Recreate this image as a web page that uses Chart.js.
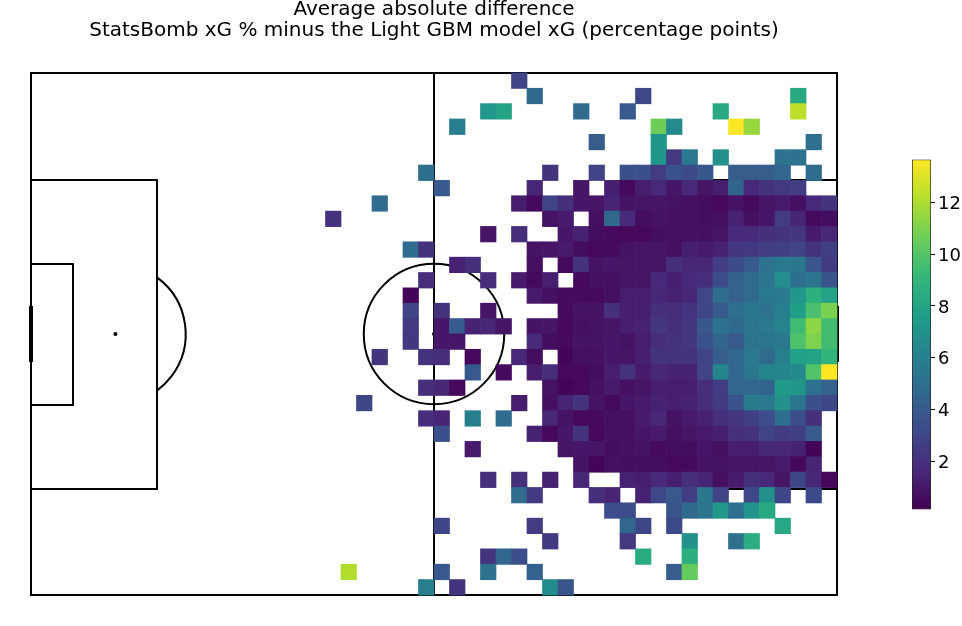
<!DOCTYPE html>
<html>
<head>
<meta charset="utf-8">
<title>xG difference</title>
<script src="https://cdn.jsdelivr.net/npm/chart.js@4"></script>
<style>
  html, body { margin: 0; padding: 0; background: #fff; }
  canvas { position: absolute; left: 0; top: 0; }
</style>
</head>
<body>
<canvas id="pitchChart" width="962" height="626"></canvas>
<canvas id="barChart" width="962" height="626"></canvas>
<script>
const titleLines = ['Average absolute difference', 'StatsBomb xG % minus the Light GBM model xG (percentage points)'];
const barTicks = [2, 4, 6, 8, 10, 12];
const barMin = 0.14;
const barMax = 13.65;

// one list per pitch row (top to bottom), entries run from bin column 19 to column 51
const firstCol = 19;
const _ = null;
const row00 = [_,_,_,_,_,_,_,_,_,_,_,_, 2.9,_,_,_,_,_,_,_,_,_, _,_,_,_,_,_,_,_,_,_,_];
const row01 = [_,_,_,_,_,_,_,_,_,_,_,_, _,4.7,_,_,_,_,_,_,3.1,_, _,_,_,_,_,_,_,_,8.3,_,_];
const row02 = [_,_,_,_,_,_,_,_,_,_,7.2,8.0, _,_,_,_,4.8,_,_,3.9,_,_, _,_,_,8.3,_,_,_,_,12.3,_,_];
const row03 = [_,_,_,_,_,_,_,_,5.9,_,_,_, _,_,_,_,_,_,_,_,_,10.6, 6.6,_,_,_,13.6,11.5,_,_,_,_,_];
const row04 = [_,_,_,_,_,_,_,_,_,_,_,_, _,_,_,_,_,4.1,_,_,_,7.2, _,_,_,_,_,_,_,_,_,5.1,_];
const row05 = [_,_,_,_,_,_,_,_,_,_,_,_, _,_,_,_,_,_,_,_,_,7.2, 2.4,5.6,_,6.9,_,_,_,5.2,5.2,_,_];
const row06 = [_,_,_,_,_,_,5.0,_,_,_,_,_, _,_,2.2,_,_,2.9,_,3.5,3.5,2.6, 3.6,3.2,3.8,_,4.1,4.1,4.1,4.6,_,4.9,_];
const row07 = [_,_,_,_,_,_,_,3.9,_,_,_,_, _,1.6,_,_,0.9,_,1.3,0.5,1.2,1.7, 1.0,1.7,0.9,1.2,4.5,1.7,2.1,2.4,2.6,_,_];
const row08 = [_,_,_,4.9,_,_,_,_,_,_,_,_, 1.2,0.5,2.9,2.0,1.0,0.9,1.5,0.8,0.9,0.9, 0.8,0.7,0.6,0.4,0.8,0.5,0.9,1.1,0.7,1.7,2.2];
const row09 = [2.1,_,_,_,_,_,_,_,_,_,_,_, _,_,0.8,1.1,_,0.7,4.7,1.8,0.6,0.8, 0.7,0.7,0.6,0.7,1.4,0.7,1.0,2.6,1.5,0.5,0.6];
const row10 = [_,_,_,_,_,_,_,_,_,_,0.9,_, 1.9,_,_,1.0,1.4,0.6,0.5,0.4,0.4,0.6, 0.7,0.7,0.7,0.9,1.7,1.8,2.0,2.2,2.3,1.1,1.6];
const row11 = [_,_,_,_,_,4.9,2.1,_,_,_,_,_, _,0.8,0.9,1.1,0.6,0.4,0.5,0.8,0.9,0.9, 0.7,1.3,1.1,1.4,2.3,2.4,2.6,2.7,2.9,2.1,2.7];
const row12 = [_,_,_,_,_,_,_,_,1.4,2.0,_,_, _,0.7,_,0.5,2.1,0.8,1.0,0.9,0.9,0.9, 2.0,1.6,1.6,2.6,3.2,4.0,5.2,5.7,5.5,3.7,2.5];
const row13 = [_,_,_,_,_,_,1.9,_,_,_,1.9,_, 1.1,0.5,1.3,_,0.4,0.7,0.7,0.9,0.9,1.7, 1.3,1.8,1.9,3.3,4.3,4.8,5.4,6.8,5.0,5.4,3.7];
const row14 = [_,_,_,_,_,0.3,_,_,_,_,_,_, _,1.1,0.7,0.5,0.5,0.5,0.7,1.2,1.3,1.6, 1.4,1.6,3.1,4.9,4.3,4.8,5.7,5.6,7.2,8.7,7.9];
const row15 = [_,_,_,_,_,2.9,_,2.1,_,_,0.9,_, _,_,_,0.5,0.8,0.8,2.0,1.3,1.3,2.0, 1.9,2.2,3.0,4.0,5.0,5.5,5.2,6.0,7.7,9.7,10.9];
const row16 = [_,_,_,_,_,2.4,_,1.0,4.0,1.4,1.6,0.9, _,0.8,0.9,0.4,0.7,0.8,0.9,1.2,1.4,2.3, 2.0,2.3,3.8,5.2,4.7,5.4,5.6,6.2,9.4,11.3,9.5];
const row17 = [_,_,_,_,_,2.3,_,1.0,1.0,_,_,_, _,1.8,0.6,0.5,0.8,0.8,1.0,0.8,1.2,1.9, 2.1,2.3,3.6,4.5,3.9,5.3,5.4,5.6,9.8,11.0,9.5];
const row18 = [_,_,_,2.2,_,_,2.1,1.9,_,0.4,_,_, 1.7,0.6,_,0.3,0.7,0.7,1.0,0.9,1.3,2.2, 2.1,2.2,2.9,4.1,4.6,5.6,4.8,6.0,7.8,7.9,8.9];
const row19 = [_,_,_,_,_,_,_,_,_,3.9,_,0.5, _,1.2,1.9,0.4,0.4,0.6,1.2,2.1,1.1,1.6, 1.4,1.4,2.9,6.3,4.6,5.5,6.3,6.3,6.5,9.9,13.6];
const row20 = [_,_,_,_,_,_,1.9,1.6,0.4,_,_,_, _,_,0.8,0.3,0.4,0.7,1.1,0.7,0.9,1.3, 1.2,1.3,1.9,2.6,4.6,4.6,4.5,7.5,7.2,5.2,4.3];
const row21 = [_,_,3.0,_,_,_,_,_,_,_,_,_, 1.2,_,0.7,1.5,2.2,0.8,0.5,1.0,1.1,1.4, 1.3,1.4,1.9,2.5,3.6,5.8,5.6,7.0,5.4,3.5,3.0];
const row22 = [_,_,_,_,_,_,1.9,1.5,_,6.0,_,4.9, _,_,1.6,0.8,0.4,0.5,0.7,0.7,1.1,1.6, 0.8,1.1,1.4,2.0,2.3,2.7,3.3,5.0,3.4,2.0,_];
const row23 = [_,_,_,_,_,_,_,3.5,_,_,_,_, _,1.4,0.4,1.0,2.2,0.4,0.7,0.7,1.0,1.1, 0.7,0.9,1.1,1.3,2.0,2.1,2.9,2.5,2.7,4.0,_];
const row24 = [_,_,_,_,_,_,_,_,_,1.1,_,_, _,_,_,0.9,1.0,0.9,0.6,0.7,0.8,0.5, 0.6,0.6,1.0,0.7,1.2,1.2,1.6,1.6,1.4,0.3,_];
const row25 = [_,_,_,_,_,_,_,_,_,_,_,_, _,_,_,_,0.8,0.3,0.7,0.6,0.6,0.6, 0.4,0.5,0.8,0.8,0.9,0.9,0.9,1.1,0.4,1.5,_];
const row26 = [_,_,_,_,_,_,_,_,_,_,2.0,_, 2.0,_,1.4,_,1.6,_,_,1.4,1.2,1.8, 1.3,2.0,1.5,0.7,1.1,2.0,1.7,0.9,3.0,1.6,0.4];
const row27 = [_,_,_,_,_,_,_,_,_,_,_,_, 4.9,2.5,_,_,_,2.0,1.5,_,1.4,3.1, 3.9,2.6,5.5,2.9,_,3.1,6.9,3.0,_,3.2,_];
const row28 = [_,_,_,_,_,_,_,_,_,_,_,_, _,_,_,_,_,_,3.3,3.3,_,_, 3.7,4.7,5.4,7.3,5.0,7.1,8.3,_,_,_,_];
const row29 = [_,_,_,_,_,_,_,3.0,_,_,_,_, _,2.6,_,_,_,_,_,4.6,3.0,_, 3.2,_,_,_,_,_,_,8.2,_,_,_];
const row30 = [_,_,_,_,_,_,_,_,_,_,_,_, _,_,2.5,_,_,_,_,2.4,_,_, _,7.0,_,_,5.1,8.5,_,_,_,_,_];
const row31 = [_,_,_,_,_,_,_,_,_,_,2.2,4.6, 3.4,_,_,_,_,_,_,_,8.4,_, _,8.7,_,_,_,_,_,_,_,_,_];
const row32 = [_,12.1,_,_,_,_,_,3.9,_,_,5.2,_, _,4.3,_,_,_,_,_,_,_,_, 4.1,10.4,_,_,_,_,_,_,_,_,_];
const row33 = [_,_,_,_,_,_,5.9,_,2.2,_,_,_, _,_,6.7,3.7,_,_,_,_,_,_, _,_,_,_,_,_,_,_,_,_,_];

const rows = [row00, row01, row02, row03, row04, row05, row06, row07, row08, row09, row10, row11,
  row12, row13, row14, row15, row16, row17, row18, row19, row20, row21, row22, row23, row24,
  row25, row26, row27, row28, row29, row30, row31, row32, row33];

// pitch size in metres and bins
const pitchLength = 105;
const pitchWidth = 68;
const binCols = 52;
const binRows = 34;

// viridis stops, 0 to 1
const viridis = ['#440154', '#482878', '#3e4989', '#31688e', '#26828e', '#1f9e89', '#35b779', '#6ece58', '#b5de2b', '#fde725'];

function hexToRgb(h) {
  return [parseInt(h.slice(1, 3), 16), parseInt(h.slice(3, 5), 16), parseInt(h.slice(5, 7), 16)];
}

function colorFor(v) {
  const t = Math.min(1, Math.max(0, (v - barMin) / (barMax - barMin))) * (viridis.length - 1);
  const i = Math.min(viridis.length - 2, Math.floor(t));
  const a = hexToRgb(viridis[i]);
  const b = hexToRgb(viridis[i + 1]);
  const f = t - i;
  return `rgb(${a.map((c, k) => Math.round(c + (b[k] - c) * f)).join(',')})`;
}

const cells = [];
rows.forEach((row, r) => {
  row.forEach((v, c) => {
    if (v === null) return;
    cells.push({
      x: (firstCol + c + 0.5) * pitchLength / binCols,
      y: pitchWidth - (r + 0.5) * pitchWidth / binRows,
      v: v
    });
  });
});

// the pitch markings go under the cells
const pitchLines = {
  id: 'pitchLines',
  beforeDatasetsDraw(chart) {
    const { ctx, scales: { x, y } } = chart;
    const px = v => x.getPixelForValue(v);
    const py = v => y.getPixelForValue(v);
    const unit = px(1) - px(0);
    // snap the boxes so the 2px lines stay crisp
    const box = (x0, x1, y0, y1) => {
      const l = Math.floor(px(x0));
      const r = Math.floor(px(x1));
      const t = Math.ceil(py(y1));
      const b = Math.ceil(py(y0));
      ctx.strokeRect(l, t, r - l, b - t);
    };
    const mid = pitchWidth / 2;

    ctx.save();
    ctx.strokeStyle = '#000';
    ctx.fillStyle = '#000';
    ctx.lineWidth = 2;

    box(0, pitchLength, 0, pitchWidth);
    ctx.beginPath();
    ctx.moveTo(px(pitchLength / 2), py(0));
    ctx.lineTo(px(pitchLength / 2), py(pitchWidth));
    ctx.stroke();

    box(0, 16.5, mid - 20.16, mid + 20.16);
    box(0, 5.5, mid - 9.16, mid + 9.16);
    box(pitchLength - 16.5, pitchLength, mid - 20.16, mid + 20.16);
    box(pitchLength - 5.5, pitchLength, mid - 9.16, mid + 9.16);

    ctx.beginPath();
    ctx.arc(px(pitchLength / 2), py(mid), 9.15 * unit, 0, Math.PI * 2);
    ctx.stroke();

    const dAngle = Math.acos(5.5 / 9.15);
    ctx.beginPath();
    ctx.arc(px(11), py(mid), 9.15 * unit, -dAngle, dAngle);
    ctx.stroke();
    ctx.beginPath();
    ctx.arc(px(pitchLength - 11), py(mid), 9.15 * unit, Math.PI - dAngle, Math.PI + dAngle);
    ctx.stroke();

    [11, pitchLength / 2, pitchLength - 11].forEach(s => {
      ctx.beginPath();
      ctx.arc(px(s), py(mid), 2, 0, Math.PI * 2);
      ctx.fill();
    });

    // goals
    ctx.lineWidth = 4;
    ctx.beginPath();
    ctx.moveTo(px(0), py(mid - 3.66));
    ctx.lineTo(px(0), py(mid + 3.66));
    ctx.moveTo(px(pitchLength), py(mid - 3.66));
    ctx.lineTo(px(pitchLength), py(mid + 3.66));
    ctx.stroke();
    ctx.restore();
  }
};

new Chart(document.getElementById('pitchChart').getContext('2d'), {
  type: 'scatter',
  plugins: [pitchLines],
  data: {
    datasets: [{
      data: cells,
      pointStyle: 'rect',
      pointBorderWidth: 0,
      pointHoverRadius: 0,
      clip: false,
      pointBackgroundColor: c => colorFor(c.raw.v),
      pointRadius: c => {
        const x = c.chart.scales.x;
        // a little over one bin wide, otherwise white seams show between the cells
        const side = x.getPixelForValue(pitchLength / binCols) - x.getPixelForValue(0) + 0.7;
        return side / 2 * Math.SQRT2;
      }
    }]
  },
  options: {
    responsive: false,
    animation: false,
    devicePixelRatio: 1,
    layout: { padding: { left: 31, right: 125, top: 0, bottom: 31 } },
    plugins: {
      legend: { display: false },
      tooltip: { enabled: false },
      title: {
        display: true,
        text: titleLines,
        color: '#000',
        font: { family: 'DejaVu Sans', size: 20, weight: 'normal', lineHeight: 1.05 },
        padding: { top: -1, bottom: 32 }
      }
    },
    scales: {
      x: { type: 'linear', display: false, min: 0, max: pitchLength },
      y: { type: 'linear', display: false, min: 0, max: pitchWidth }
    }
  }
});

// colour bar is its own little chart, a single floating bar with the viridis ramp
new Chart(document.getElementById('barChart').getContext('2d'), {
  type: 'bar',
  data: {
    labels: ['xG'],
    datasets: [{
      data: [[barMin, barMax]],
      barPercentage: 1,
      categoryPercentage: 1,
      borderWidth: 1,
      borderColor: '#222',
      borderSkipped: false,
      backgroundColor: c => {
        const area = c.chart.chartArea;
        if (!area) return viridis[0];
        const g = c.chart.ctx.createLinearGradient(0, area.bottom, 0, area.top);
        viridis.forEach((col, i) => g.addColorStop(i / (viridis.length - 1), col));
        return g;
      }
    }]
  },
  options: {
    responsive: false,
    animation: false,
    devicePixelRatio: 1,
    layout: { padding: { left: 912, right: 0, top: 159.5, bottom: 116.5 } },
    plugins: { legend: { display: false }, tooltip: { enabled: false } },
    scales: {
      x: { display: false },
      y: {
        position: 'right',
        min: barMin,
        max: barMax,
        afterFit: a => { a.width = 31; },
        afterBuildTicks: a => { a.ticks = barTicks.map(v => ({ value: v })); },
        border: { display: false },
        grid: { drawOnChartArea: false, tickLength: 4, tickColor: '#000' },
        ticks: { color: '#000', padding: 3, labelOffset: 2, font: { family: 'DejaVu Sans', size: 18 } }
      }
    }
  }
});
</script>
</body>
</html>
